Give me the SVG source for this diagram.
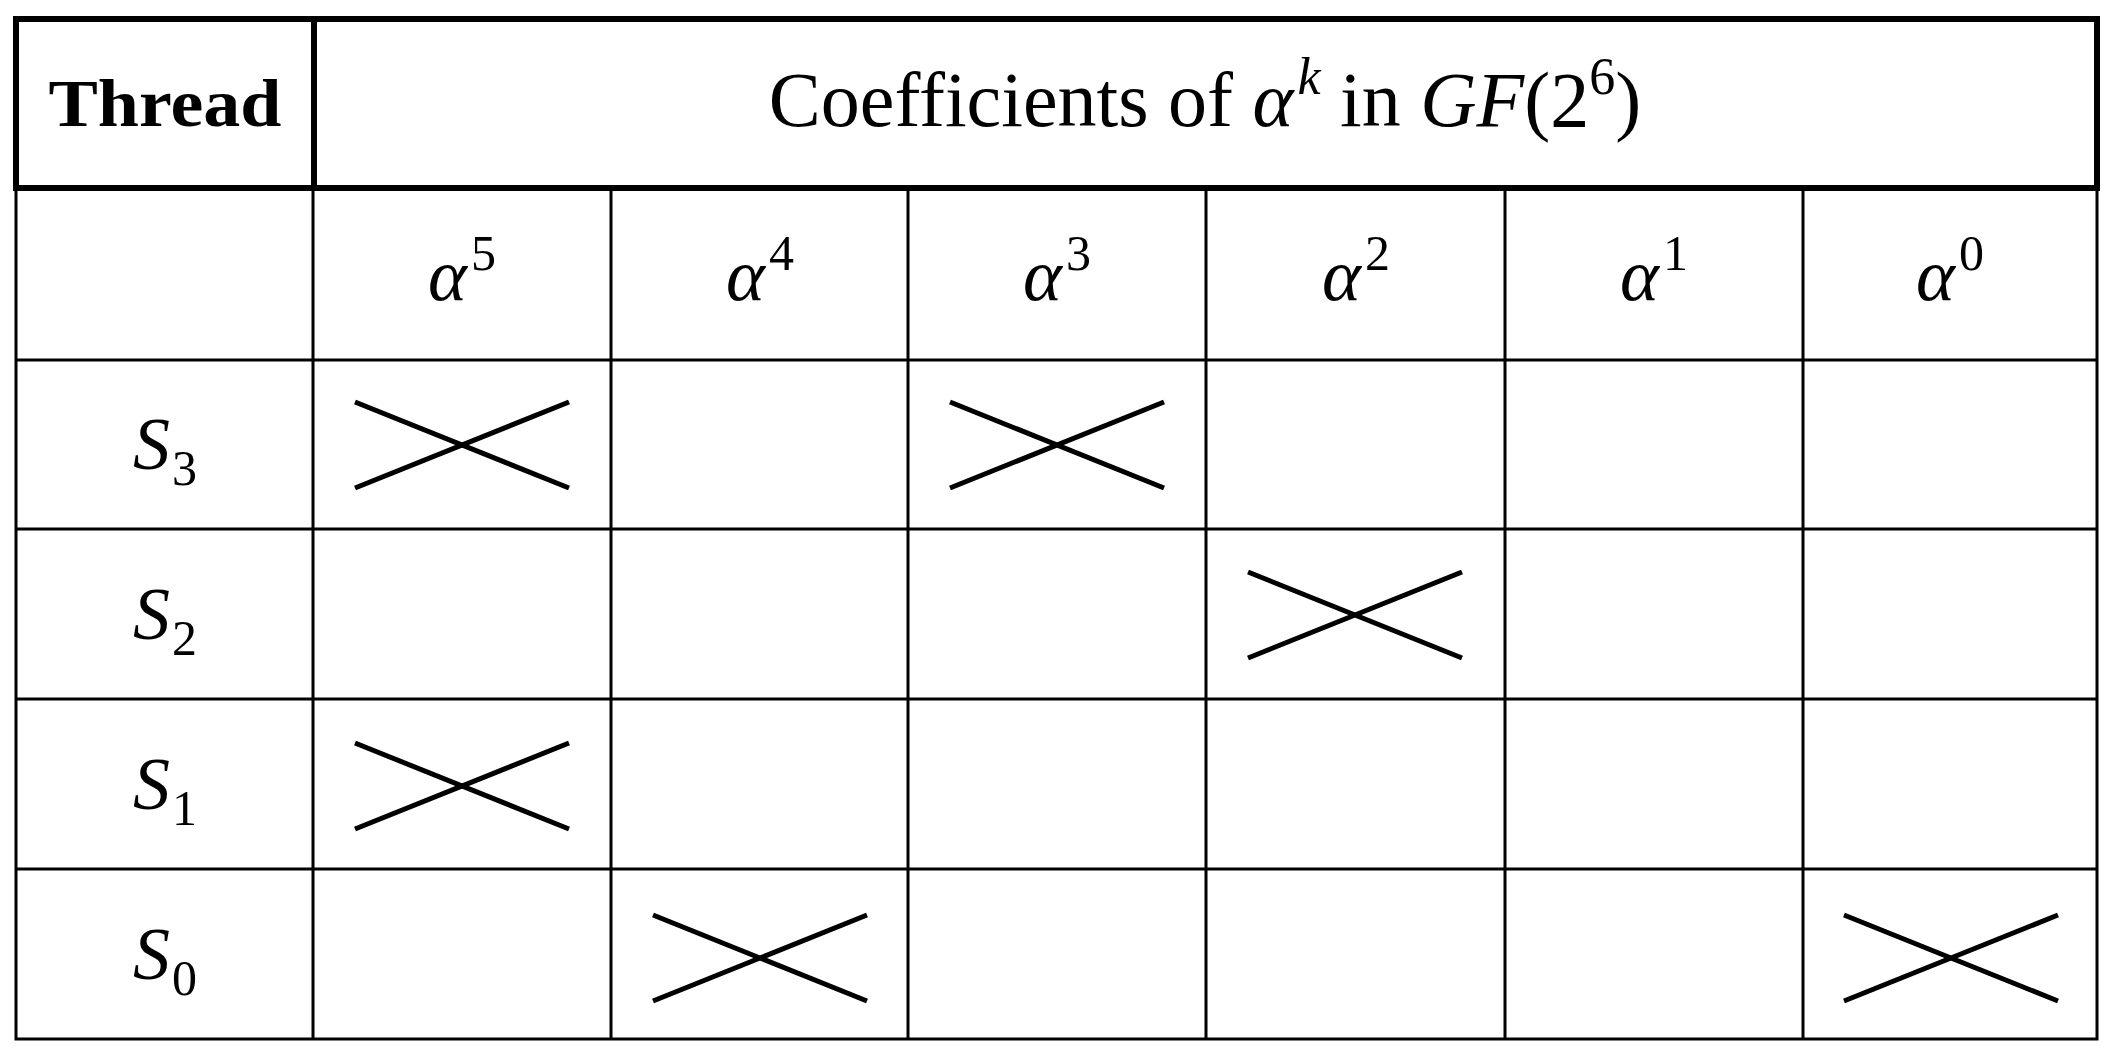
<svg xmlns="http://www.w3.org/2000/svg" width="2125" height="1060" viewBox="0 0 2125 1060">
<style>
.t{font-family:"Liberation Serif",serif;fill:#000}
.m{font-family:"Liberation Serif",serif;font-style:italic;font-size:74px;text-anchor:middle}
.thin{stroke:#000;stroke-width:3;fill:none}
.thick{stroke:#000;stroke-width:6;fill:none}
.x{stroke:#000;stroke-width:5}
</style>
<defs>
<g id="X"><line class="x" x1="-107" y1="-43" x2="107" y2="43"/><line class="x" x1="-107" y1="43" x2="107" y2="-43"/></g>
</defs>
<rect width="2125" height="1060" fill="#fff"/>
<g id="grid">
<rect class="thin" x="16" y="188" width="2081" height="851"/>
<line class="thin" x1="16" y1="360" x2="2097" y2="360"/>
<line class="thin" x1="16" y1="529" x2="2097" y2="529"/>
<line class="thin" x1="16" y1="699" x2="2097" y2="699"/>
<line class="thin" x1="16" y1="869" x2="2097" y2="869"/>
<line class="thin" x1="313" y1="188" x2="313" y2="1039"/>
<line class="thin" x1="611" y1="188" x2="611" y2="1039"/>
<line class="thin" x1="908" y1="188" x2="908" y2="1039"/>
<line class="thin" x1="1206" y1="188" x2="1206" y2="1039"/>
<line class="thin" x1="1505" y1="188" x2="1505" y2="1039"/>
<line class="thin" x1="1803" y1="188" x2="1803" y2="1039"/>
<rect class="thick" x="16" y="19" width="2081" height="169"/>
<line class="thick" x1="314" y1="19" x2="314" y2="188"/>
</g>
<g id="header">
<text class="t" x="165" y="126" font-size="68" font-weight="bold" text-anchor="middle" textLength="233" lengthAdjust="spacingAndGlyphs">Thread</text>
<text class="t" x="1205" y="126" font-size="78" text-anchor="middle">Coefficients of <tspan font-style="italic">α</tspan><tspan font-style="italic" font-size="52" dx="4" dy="-32">k</tspan><tspan dy="32"> in </tspan><tspan font-style="italic">GF</tspan>(2<tspan font-size="52" dy="-32">6</tspan><tspan dy="32">)</tspan></text>
</g>
<g id="powers">
<text class="t m" x="462" y="300">α<tspan font-style="normal" font-size="50" dx="4" dy="-30">5</tspan></text>
<text class="t m" x="760" y="300">α<tspan font-style="normal" font-size="50" dx="4" dy="-30">4</tspan></text>
<text class="t m" x="1057" y="300">α<tspan font-style="normal" font-size="50" dx="4" dy="-30">3</tspan></text>
<text class="t m" x="1356" y="300">α<tspan font-style="normal" font-size="50" dx="4" dy="-30">2</tspan></text>
<text class="t m" x="1654" y="300">α<tspan font-style="normal" font-size="50" dx="4" dy="-30">1</tspan></text>
<text class="t m" x="1950" y="300">α<tspan font-style="normal" font-size="50" dx="4" dy="-30">0</tspan></text>
</g>
<g id="threads">
<text class="t m" x="165" y="469">S<tspan font-style="normal" font-size="50" dx="2" dy="16">3</tspan></text>
<text class="t m" x="165" y="639">S<tspan font-style="normal" font-size="50" dx="2" dy="16">2</tspan></text>
<text class="t m" x="165" y="809">S<tspan font-style="normal" font-size="50" dx="2" dy="16">1</tspan></text>
<text class="t m" x="165" y="979">S<tspan font-style="normal" font-size="50" dx="2" dy="16">0</tspan></text>
</g>
<g id="marks">
<use href="#X" x="462" y="445"/>
<use href="#X" x="1057" y="445"/>
<use href="#X" x="1355" y="615"/>
<use href="#X" x="462" y="786"/>
<use href="#X" x="760" y="958"/>
<use href="#X" x="1951" y="958"/>
</g>
</svg>
